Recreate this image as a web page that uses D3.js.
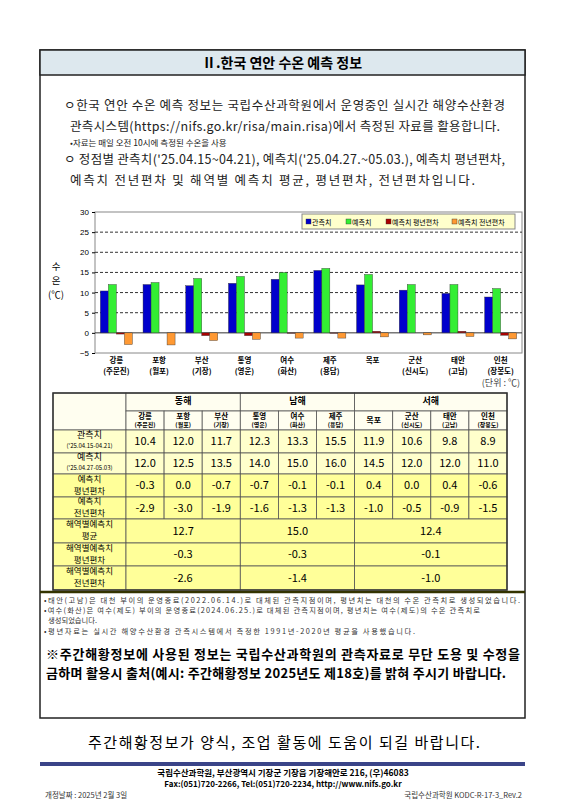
<!DOCTYPE html>
<html><head><meta charset="utf-8">
<script src="https://cdn.jsdelivr.net/npm/d3@7"></script>
<style>body{margin:0;background:#fff}svg{font-family:"Noto Sans CJK KR",sans-serif}</style>
</head><body>
<svg id="page" width="566" height="800"></svg>
<script>
// station names (two lines) and values
const stations = ["강릉","포항","부산","통영","여수","제주","목포","군산","태안","인천"];
const subnames = ["(주문진)","(월포)","(기장)","(영운)","(화산)","(용담)","","(신시도)","(고남)","(장봉도)"];
const observed = [10.4,12.0,11.7,12.3,13.3,15.5,11.9,10.6,9.8,8.9];
const forecast = [12.0,12.5,13.5,14.0,15.0,16.0,14.5,12.0,12.0,11.0];
const normDev  = [-0.3,0.0,-0.7,-0.7,-0.1,-0.1,0.4,0.0,0.4,-0.6];
const prevDev  = [-2.9,-3.0,-1.9,-1.6,-1.3,-1.3,-1.0,-0.5,-0.9,-1.5];
const seas = ["동해","남해","서해"];
const seaSpan = [3,3,4];
const seaMean = [12.7,15.0,12.4];
const seaNorm = [-0.3,-0.3,-0.1];
const seaPrev = [-2.6,-1.4,-1.0];
const series = ["관측치","예측치","예측치 평년편차","예측치 전년편차"];
const colors = ["#0000cc","#33ee33","#aa0000","#ff9933"];
const yTicks = [-5,0,5,10,15,20,25,30];

const svg = d3.select("#page");

// outer box + header
svg.append("rect").attr("x",40).attr("y",50).attr("width",485).attr("height",668)
  .attr("fill","#fff").attr("stroke","#222").attr("stroke-width",1.5);
svg.append("rect").attr("x",40).attr("y",50).attr("width",485).attr("height",25)
  .attr("fill","#dde8ee").attr("stroke","#222").attr("stroke-width",1.5);
svg.append("text").attr("x",282).attr("y",68).attr("text-anchor","middle")
  .attr("font-size",14).attr("font-weight","bold").text("Ⅱ.한국 연안 수온 예측 정보");

// x, y, size, text, width
const intro = [
  [64,110,12.5,"ㅇ한국 연안 수온 예측 정보는 국립수산과학원에서 운영중인 실시간 해양수산환경",441],
  [70,131,12.5,"관측시스템(https://nifs.go.kr/risa/main.risa)에서 측정된 자료를 활용합니다.",430],
  [70,146,8.5,"•자료는 매일 오전 10시에 측정된 수온을 사용",null],
  [64,164,12.5,"ㅇ 정점별 관측치('25.04.15~04.21), 예측치('25.04.27.~05.03.), 예측치 평년편차,",441],
  [70,185,12.5,"예측치 전년편차 및 해역별 예측치 평균, 평년편차, 전년편차입니다.",405]
];
intro.forEach(d=>svg.append("text").attr("x",d[0]).attr("y",d[1]).attr("font-size",d[2])
  .attr("fill","#222").attr("textLength",d[4]).text(d[3]));

// chart
const x = d3.scaleBand().domain(stations).range([95,522]).paddingInner(0.25).paddingOuter(0.125);
const y = d3.scaleLinear().domain([-5,30]).range([353,212]);
const g = svg.append("g");
g.append("rect").attr("x",95).attr("y",212).attr("width",427).attr("height",141)
  .attr("fill","#fff").attr("stroke","#888");
yTicks.filter(t=>t>0&&t<30).forEach(t=>g.append("line").attr("x1",95).attr("x2",522)
  .attr("y1",y(t)).attr("y2",y(t)).attr("stroke","#333").attr("stroke-dasharray","3,2"));
g.append("line").attr("x1",95).attr("x2",522).attr("y1",y(0)).attr("y2",y(0)).attr("stroke","#333");
g.append("g").attr("transform","translate(95,0)")
  .call(d3.axisLeft(y).tickValues(yTicks).tickSize(3))
  .call(a=>a.select(".domain").remove())
  .selectAll("text").attr("font-size",8).attr("font-family","Liberation Sans");
const sub = d3.scaleBand().domain(d3.range(4)).range([0,x.bandwidth()]);
const data = [observed,forecast,normDev,prevDev];
data.forEach((arr,k)=>g.selectAll(null).data(arr).join("rect")
  .attr("x",(v,i)=>x(stations[i])+sub(k)).attr("width",sub.bandwidth())
  .attr("y",v=>y(Math.max(0,v))).attr("height",v=>Math.abs(y(v)-y(0)))
  .attr("fill",colors[k]).attr("stroke","#333").attr("stroke-width",0.4));
stations.forEach((s,i)=>{
  const cx = x(s)+x.bandwidth()/2;
  g.append("text").attr("x",cx).attr("y",363).attr("text-anchor","middle").attr("font-size",7.5).attr("font-weight","bold").text(s);
  g.append("text").attr("x",cx).attr("y",374).attr("text-anchor","middle").attr("font-size",7.5).attr("font-weight","bold").text(subnames[i]);
});
["수","온","(℃)"].forEach((t,i)=>g.append("text").attr("x",56).attr("y",270+i*14)
  .attr("text-anchor","middle").attr("font-size",9.5).text(t));
g.append("text").attr("x",520).attr("y",386).attr("text-anchor","end").attr("font-size",9).attr("fill","#444").text("(단위 : ℃)");
// legend
const lg = g.append("g");
lg.append("rect").attr("x",302).attr("y",214).attr("width",213).attr("height",15)
  .attr("fill","#ffffcc").attr("stroke","#888");
const lx = [306,346,386,452];
series.forEach((s,k)=>{
  lg.append("rect").attr("x",lx[k]).attr("y",219).attr("width",5).attr("height",5).attr("fill",colors[k]).attr("stroke","#333").attr("stroke-width",0.4);
  lg.append("text").attr("x",lx[k]+6).attr("y",224.5).attr("font-size",7).text(s);
});

// table
const tx0 = 53, labW = 73, colW = 38.1, tx1 = tx0+labW+colW*10;
const rowY = [393,411,430,453,474,497,519,543,566,590];
const cellBg = ["#fffef0","#fffef0","#ffffcc","#ffffcc","#ffff99","#ffff99","#ffff99","#ffff99","#ffff99"];
const t = svg.append("g").attr("font-size",10);
function cell(x0,y0,w,h,fill){t.append("rect").attr("x",x0).attr("y",y0).attr("width",w).attr("height",h).attr("fill",fill).attr("stroke","#555").attr("stroke-width",0.8);}
function txt(cx,cy,s,size,bold){t.append("text").attr("x",cx).attr("y",cy).attr("text-anchor","middle").attr("dominant-baseline","middle").attr("font-size",size).attr("font-weight",bold?"bold":null).text(s);}
// row 0 group header
cell(tx0,rowY[0],labW,rowY[2]-rowY[0],cellBg[0]);
let c=0;
seas.forEach((s,j)=>{const xs=tx0+labW+c*colW,w=seaSpan[j]*colW;cell(xs,rowY[0],w,rowY[1]-rowY[0],cellBg[0]);txt(xs+w/2,(rowY[0]+rowY[1])/2,s,9,true);c+=seaSpan[j];});
stations.forEach((s,i)=>{const xs=tx0+labW+i*colW;cell(xs,rowY[1],colW,rowY[2]-rowY[1],cellBg[1]);
  if(subnames[i]){txt(xs+colW/2,rowY[1]+5.5,s,7.5,true);txt(xs+colW/2,rowY[1]+14,subnames[i],6,true);}else txt(xs+colW/2,(rowY[1]+rowY[2])/2,s,8,true);});
const rowsLab = [["관측치","('25.04.15-04.21)"],["예측치","('25.04.27-05.03)"],["예측치","평년편차"],["예측치","전년편차"]];
[observed,forecast,normDev,prevDev].forEach((arr,r)=>{
  const y0=rowY[r+2],h=rowY[r+3]-y0;
  cell(tx0,y0,labW,h,cellBg[r+2]);
  const small = r<2;
  txt(tx0+labW/2,y0+h/2-(small?6:6),rowsLab[r][0],small?9:8.5);
  txt(tx0+labW/2,y0+h/2+(small?5:6),rowsLab[r][1],small?6:8.5);
  arr.forEach((v,i)=>{const xs=tx0+labW+i*colW;cell(xs,y0,colW,h,cellBg[r+2]);txt(xs+colW/2,y0+h/2+1,v.toFixed(1),11);});
});
const seaRows = [[seaMean,"평균"],[seaNorm,"평년편차"],[seaPrev,"전년편차"]];
seaRows.forEach((d,r)=>{
  const y0=rowY[r+6],h=rowY[r+7]-y0;
  cell(tx0,y0,labW,h,cellBg[r+6]);
  txt(tx0+labW/2,y0+h/2-6,"해역별예측치",8.5);txt(tx0+labW/2,y0+h/2+6,d[1],8.5);
  let cc=0;
  d[0].forEach((v,j)=>{const xs=tx0+labW+cc*colW,w=seaSpan[j]*colW;cell(xs,y0,w,h,cellBg[r+6]);txt(xs+w/2,y0+h/2+1,v.toFixed(1),11);cc+=seaSpan[j];});
});
t.append("rect").attr("x",tx0).attr("y",rowY[0]).attr("width",tx1-tx0).attr("height",rowY[9]-rowY[0]).attr("fill","none").attr("stroke","#333").attr("stroke-width",1.5);

// notes
svg.append("line").attr("x1",40).attr("x2",525).attr("y1",592).attr("y2",592).attr("stroke","#333300").attr("stroke-width",2.5);
const notes = [[44,603,"•태안(고남)은 대천 부이의 운영종료(2022.06.14.)로 대체된 관측지점이며, 평년치는 대천의 수온 관측치로 생성되었습니다.",476],
  [44,613,"•여수(화산)은 여수(제도) 부이의 운영종료(2024.06.25.)로 대체된 관측지점이며, 평년치는 여수(제도)의 수온 관측치로",436],
  [48,623,"생성되었습니다.",null],
  [44,634,"•평년자료는 실시간 해양수산환경 관측시스템에서 측정한 1991년-2020년 평균을 사용했습니다.",371]];
notes.forEach(d=>svg.append("text").attr("x",d[0]).attr("y",d[1]).attr("font-size",7.3).attr("fill","#333").attr("textLength",d[3]).text(d[2]));
svg.append("text").attr("x",46).attr("y",659).attr("font-size",13).attr("font-weight","bold").attr("textLength",474).text("※주간해황정보에 사용된 정보는 국립수산과학원의 관측자료로 무단 도용 및 수정을");
svg.append("text").attr("x",46).attr("y",678).attr("font-size",13).attr("font-weight","bold").attr("textLength",460).text("금하며 활용시 출처(예시: 주간해황정보 2025년도 제18호)를 밝혀 주시기 바랍니다.");

// closing + footer
svg.append("text").attr("x",88).attr("y",748).attr("font-size",15).attr("textLength",392).text("주간해황정보가 양식, 조업 활동에 도움이 되길 바랍니다.");
svg.append("rect").attr("x",40).attr("y",762).attr("width",485).attr("height",4).attr("fill","#3a4488");
svg.append("text").attr("x",283).attr("y",776).attr("text-anchor","middle").attr("font-size",8.5).attr("font-weight","bold").text("국립수산과학원, 부산광역시 기장군 기장읍 기장해안로 216, (우)46083");
svg.append("text").attr("x",283).attr("y",787).attr("text-anchor","middle").attr("font-size",8).attr("font-weight","bold").text("Fax:(051)720-2266, Tel:(051)720-2234, http://www.nifs.go.kr");
svg.append("text").attr("x",45).attr("y",798).attr("font-size",7.5).attr("fill","#333").text("개정날짜 : 2025년 2월 3일");
svg.append("text").attr("x",522).attr("y",798).attr("text-anchor","end").attr("font-size",7.5).attr("fill","#333").text("국립수산과학원 KODC-R-17-3_Rev.2");
</script>
</body></html>
